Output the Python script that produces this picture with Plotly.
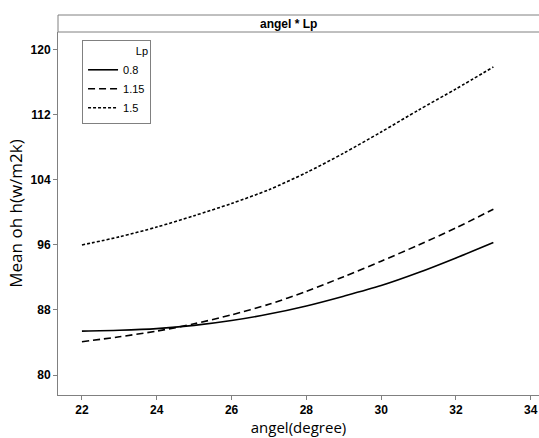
import plotly.graph_objects as go

angle = [22, 23, 24, 25, 26, 27, 28, 29, 30, 31, 32, 33]
lp_08 = [85.4, 85.5, 85.7, 86.1, 86.7, 87.5, 88.5, 89.7, 91.0, 92.6, 94.4, 96.3]
lp_115 = [84.1, 84.7, 85.4, 86.3, 87.4, 88.7, 90.3, 92.1, 94.0, 96.0, 98.1, 100.4]
lp_15 = [96.0, 97.0, 98.2, 99.6, 101.1, 102.8, 104.9, 107.3, 109.9, 112.6, 115.2, 117.9]
series_names = ["0.8", "1.15", "1.5"]
x_ticks = [22, 24, 26, 28, 30, 32, 34]
y_ticks = [80, 88, 96, 104, 112, 120]

dashes = ["solid", "7px,4px", "3px,2px"]
fig = go.Figure()
for name, vals, d in zip(series_names, [lp_08, lp_115, lp_15], dashes):
    fig.add_trace(go.Scatter(x=angle, y=vals, mode="lines", name=name,
                             line=dict(color="black", width=1.6, dash=d, shape="spline", smoothing=0.8)))

narrow = "Liberation Sans Narrow, Arial Narrow, sans-serif"
tickfont = dict(family=narrow, size=12, color="black", weight="bold")
fig.update_layout(
    width=539, height=438,
    margin=dict(l=58, r=0, t=32, b=43),
    plot_bgcolor="white", paper_bgcolor="white",
    showlegend=True,
    legend=dict(x=0.05, y=0.978, xanchor="left", yanchor="top",
                bordercolor="#808080", borderwidth=1, bgcolor="white",
                title=dict(text="Lp", side="top right",
                           font=dict(family=narrow, size=11, color="black")),
                font=dict(family=narrow, size=11, color="black"),
                itemwidth=30, tracegroupgap=0),
    xaxis=dict(range=[21.36, 34.22], tickvals=x_ticks, ticks="outside", ticklen=4,
               tickcolor="#808080", showline=True, linecolor="#808080", linewidth=1,
               showgrid=False, zeroline=False, tickfont=tickfont,
               title=dict(text="angel(degree)", standoff=6,
                          font=dict(family="Open Sans, sans-serif", size=15, color="black"))),
    yaxis=dict(range=[77.54, 122.2], tickvals=y_ticks, ticks="outside", ticklen=4,
               tickcolor="#808080", showline=True, linecolor="#808080", linewidth=1,
               showgrid=False, zeroline=False, tickfont=tickfont,
               title=dict(text="Mean oh h(w/m2k)", standoff=3,
                          font=dict(family="Open Sans, sans-serif", size=17, color="black"))),
)

ph = 438 - 32 - 43
strip_h = 17 / ph
fig.add_shape(type="rect", xref="paper", yref="paper", x0=0, x1=1.01, y0=1, y1=1 + strip_h,
              line=dict(color="#808080", width=1), fillcolor="white", layer="above")
fig.add_annotation(text="<b>angel * Lp</b>", xref="paper", yref="paper", x=(288 - 58) / 481,
                   y=1 + strip_h / 2, showarrow=False, yanchor="middle",
                   font=dict(family=narrow, size=12, color="black"))

fig.write_html("out.html")
